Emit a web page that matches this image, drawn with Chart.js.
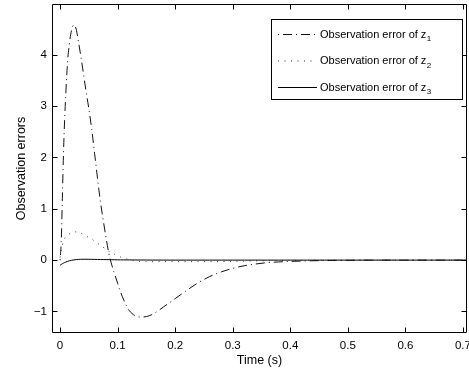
<!DOCTYPE html>
<html><head><meta charset="utf-8">
<script src="https://cdn.jsdelivr.net/npm/chart.js@4/dist/chart.umd.min.js"></script>
<style>html,body{margin:0;padding:0;background:#fff}#wrap{width:469px;height:371px;position:relative}</style>
</head><body><div id="wrap"><canvas id="c" width="469" height="371"></canvas></div>
<script>
const time = [0,0.002,0.004,0.006,0.008,0.01,0.013,0.016,0.02,0.024,0.028,0.032,0.036,0.04,0.045,0.05,0.055,0.06,0.065,0.07,0.075,0.08,0.085,0.09,0.095,0.1,0.105,0.11,0.115,0.12,0.125,0.13,0.14,0.15,0.16,0.17,0.18,0.19,0.2,0.22,0.24,0.26,0.28,0.3,0.32,0.34,0.36,0.38,0.4,0.43,0.46,0.5,0.55,0.6,0.65,0.7,0.707];
const z1Error = [0,0.35,1.2,2.1,2.75,3.25,3.85,4.2,4.48,4.58,4.5,4.25,3.98,3.68,3.3,2.95,2.55,2.08,1.6,1.15,0.78,0.43,0.12,-0.1,-0.28,-0.45,-0.62,-0.76,-0.88,-0.98,-1.04,-1.08,-1.11,-1.1,-1.06,-0.99,-0.91,-0.83,-0.75,-0.59,-0.44,-0.32,-0.23,-0.16,-0.11,-0.075,-0.05,-0.035,-0.025,-0.015,-0.008,-0.004,0,0,0,0,0];
const z2Error = [0.05,0.2,0.3,0.37,0.42,0.45,0.48,0.51,0.53,0.545,0.55,0.55,0.53,0.5,0.47,0.44,0.41,0.37,0.33,0.29,0.25,0.21,0.17,0.14,0.11,0.08,0.06,0.045,0.025,0.008,-0.005,-0.015,-0.025,-0.03,-0.03,-0.03,-0.03,-0.03,-0.03,-0.03,-0.03,-0.03,-0.028,-0.025,-0.02,-0.016,-0.012,-0.008,-0.005,-0.002,0,0,0,0,0,0,0];
const z3Error = [-0.1,-0.085,-0.07,-0.058,-0.047,-0.037,-0.025,-0.014,-0.004,0.004,0.01,0.014,0.016,0.017,0.017,0.016,0.015,0.014,0.013,0.012,0.011,0.01,0.009,0.008,0.007,0.006,0.005,0.005,0.004,0.004,0.003,0.003,0.002,0.002,0.001,0.001,0.001,0,0,0,0,0,0,0,0,0,0,0,0,0,0,0,0,0,0,0,0];
const xTickValues = [0,0.1,0.2,0.3,0.4,0.5,0.6,0.7];
const xTickLabels = ['0','0.1','0.2','0.3','0.4','0.5','0.6','0.7'];
const yTickValues = [-1,0,1,2,3,4];
const yTickLabels = ['\u22121','0','1','2','3','4'];
const seriesNames = ['Observation error of z','Observation error of z','Observation error of z'];
const seriesSubscripts = ['1','2','3'];
const xTitle = 'Time (s)';
const yTitle = 'Observation errors';

const FONT = '"Liberation Sans", Arial, Helvetica, sans-serif';
const toPts = (ys) => time.map((t, i) => ({x: t, y: ys[i]}));
const styles = [
  {borderColor:'#111', borderDash:[1,4,9,4]},
  {borderColor:'#333', borderDash:[1,5.5]},
  {borderColor:'#000', borderDash:[]}
];
const datasets = [z1Error, z2Error, z3Error].map((ys, i) => ({
  label: seriesNames[i] + seriesSubscripts[i],
  data: toPts(ys),
  borderColor: styles[i].borderColor,
  borderDash: styles[i].borderDash,
  borderWidth: 1,
  pointRadius: 0,
  fill: false,
  cubicInterpolationMode: 'monotone'
}));

const framePlugin = {
  id: 'frame',
  afterDraw(chart) {
    const {ctx, chartArea: a, scales: {x, y}} = chart;
    ctx.save();
    ctx.strokeStyle = '#000';
    ctx.lineWidth = 1;
    ctx.setLineDash([]);
    ctx.beginPath();
    const L = Math.round(a.left) + 0.5, R = Math.round(a.right) - 0.5, T = Math.round(a.top) + 0.5, B = Math.round(a.bottom) - 0.5;
    ctx.rect(L, T, R - L, B - T);
    const tl = 5;
    xTickValues.forEach(v => {
      const px = Math.round(x.getPixelForValue(v)) + 0.5;
      ctx.moveTo(px, B); ctx.lineTo(px, B - tl);
      ctx.moveTo(px, T); ctx.lineTo(px, T + tl);
    });
    yTickValues.forEach(v => {
      const py = Math.round(y.getPixelForValue(v)) + 0.5;
      ctx.moveTo(L, py); ctx.lineTo(L + tl, py);
      ctx.moveTo(R, py); ctx.lineTo(R - tl, py);
    });
    ctx.stroke();

    // legend
    const bx = 271.5, by = 19.5, bw = 191, bh = 80;
    ctx.fillStyle = '#fff';
    ctx.fillRect(bx, by, bw, bh);
    ctx.strokeRect(bx, by, bw, bh);
    const rows = [34, 60.5, 87];
    chart.data.datasets.forEach((ds, i) => {
      const ry = rows[i];
      ctx.beginPath();
      ctx.strokeStyle = ds.borderColor;
      ctx.lineWidth = 1;
      ctx.setLineDash(ds.borderDash);
      ctx.moveTo(278, ry + 0.5); ctx.lineTo(317, ry + 0.5);
      ctx.stroke();
      ctx.setLineDash([]);
      ctx.fillStyle = '#000';
      ctx.textBaseline = 'middle';
      ctx.textAlign = 'left';
      ctx.font = '11px ' + FONT;
      const txt = seriesNames[i];
      ctx.fillText(txt, 320, ry + 0.5);
      const w = ctx.measureText(txt).width;
      ctx.font = '8px ' + FONT;
      ctx.fillText(seriesSubscripts[i], 320 + w + 0.5, ry + 5);
    });
    ctx.restore();
  }
};

new Chart(document.getElementById('c'), {
  type: 'line',
  data: {datasets},
  options: {
    responsive: false,
    animation: false,
    devicePixelRatio: 1,
    layout: {padding: {top: 4, right: 2, left: 0, bottom: 0}},
    plugins: {legend: {display: false}, tooltip: {enabled: false}},
    scales: {
      x: {
        type: 'linear', min: -0.014, max: 0.707,
        grid: {display: false, drawTicks: false},
        border: {display: false},
        afterBuildTicks: s => { s.ticks = xTickValues.map(v => ({value: v})); },
        afterFit: s => { s.height = 38; s.paddingLeft = 0; s.paddingRight = 0; },
        ticks: {
          autoSkip: false, maxRotation: 0, padding: 6, color: '#000',
          font: {family: FONT, size: 11.5},
          callback: (v) => { const i = xTickValues.indexOf(v); return i >= 0 ? xTickLabels[i] : ''; }
        },
        title: {display: true, text: xTitle, color: '#000', font: {family: FONT, size: 12.5}, padding: {top: 0, bottom: 3}}
      },
      y: {
        type: 'linear', min: -1.42, max: 4.99,
        grid: {display: false, drawTicks: false},
        border: {display: false},
        afterBuildTicks: s => { s.ticks = yTickValues.map(v => ({value: v})); },
        afterFit: s => { s.width = 52; s.paddingTop = 0; s.paddingBottom = 0; },
        ticks: {
          autoSkip: false, padding: 5, color: '#000',
          font: {family: FONT, size: 11.5},
          callback: (v) => { const i = yTickValues.indexOf(v); return i >= 0 ? yTickLabels[i] : ''; }
        },
        title: {display: true, text: yTitle, color: '#000', font: {family: FONT, size: 12.5}, padding: {top: 14, bottom: 0}}
      }
    }
  },
  plugins: [framePlugin]
});
</script></body></html>
